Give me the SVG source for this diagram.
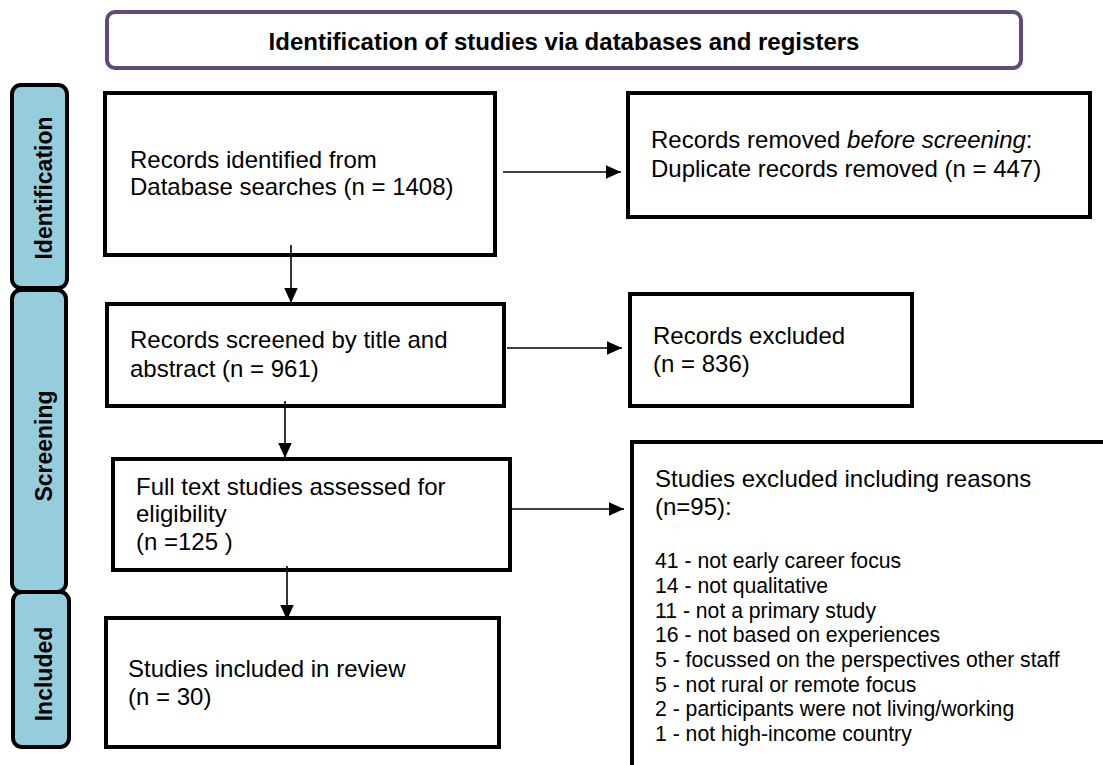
<svg xmlns="http://www.w3.org/2000/svg" width="1103" height="765" viewBox="0 0 1103 765">
<defs>
<style>
.box{fill:#ffffff;stroke:#000000;stroke-width:4}
.phase{fill:#96cddd;stroke:#000000;stroke-width:4}
.t{font-family:"Liberation Sans",Arial,sans-serif;font-size:24px;fill:#000000}
.s{font-family:"Liberation Sans",Arial,sans-serif;font-size:21.2px;fill:#000000}
.b{font-family:"Liberation Sans",Arial,sans-serif;font-size:23px;font-weight:bold;fill:#000000}
.con{stroke:#000000;stroke-width:1.6;fill:none}
</style>
<marker id="ah" viewBox="0 0 10 10" refX="10" refY="5" markerWidth="15" markerHeight="15" markerUnits="userSpaceOnUse" orient="auto">
<path d="M0,0.5 L10,5 L0,9.5 z" fill="#000000"/>
</marker>
</defs>
<rect width="1103" height="765" fill="#ffffff"/>

<g id="title">
<rect x="107" y="12" width="914" height="56" rx="8" fill="#ffffff" stroke="#5e4b7c" stroke-width="4"/>
<text class="b" x="564" y="50" text-anchor="middle" style="font-size:24px">Identification of studies via databases and registers</text>
</g>

<g id="phase-identification">
<rect class="phase" x="12" y="85" width="55" height="203" rx="9"/>
<text class="b" x="52" y="188" text-anchor="middle" transform="rotate(-90 52 188)">Identification</text>
</g>
<g id="phase-screening">
<rect class="phase" x="12" y="290" width="54" height="302" rx="9"/>
<text class="b" x="52" y="446" text-anchor="middle" transform="rotate(-90 52 446)">Screening</text>
</g>
<g id="phase-included">
<rect class="phase" x="13" y="592" width="56" height="155" rx="9"/>
<text class="b" x="52" y="674" text-anchor="middle" transform="rotate(-90 52 674)">Included</text>
</g>

<g id="records-identified">
<rect class="box" x="105" y="93" width="390" height="162"/>
<text class="t" x="130" y="168">Records identified from</text>
<text class="t" x="130" y="195">Database searches (n = 1408)</text>
</g>

<g id="records-removed">
<rect class="box" x="628" y="93" width="462" height="124"/>
<text class="t" x="651" y="148">Records removed <tspan font-style="italic">before screening</tspan>:</text>
<text class="t" x="651" y="177">Duplicate records removed (n = 447)</text>
</g>

<g id="records-screened">
<rect class="box" x="107" y="304" width="397" height="102"/>
<text class="t" x="130" y="348">Records screened by title and</text>
<text class="t" x="130" y="377">abstract (n = 961)</text>
</g>

<g id="records-excluded">
<rect class="box" x="630" y="294" width="282" height="112"/>
<text class="t" x="653" y="344">Records excluded</text>
<text class="t" x="653" y="372">(n = 836)</text>
</g>

<g id="full-text">
<rect class="box" x="113" y="459" width="397" height="111"/>
<text class="t" x="136" y="495">Full text studies assessed for</text>
<text class="t" x="136" y="522">eligibility</text>
<text class="t" x="136" y="550">(n =125 )</text>
</g>

<g id="studies-excluded">
<rect class="box" x="632" y="442" width="520" height="400"/>
<text class="t" x="655" y="487">Studies excluded including reasons</text>
<text class="t" x="655" y="515">(n=95):</text>
<text class="s" x="655" y="568">41 - not early career focus</text>
<text class="s" x="655" y="593">14 - not qualitative</text>
<text class="s" x="655" y="618">11 - not a primary study</text>
<text class="s" x="655" y="642">16 - not based on experiences</text>
<text class="s" x="655" y="667">5 - focussed on the perspectives other staff</text>
<text class="s" x="655" y="692">5 - not rural or remote focus</text>
<text class="s" x="655" y="716">2 - participants were not living/working</text>
<text class="s" x="655" y="741">1 - not high-income country</text>
</g>

<g id="studies-included">
<rect class="box" x="106" y="618" width="393" height="129"/>
<text class="t" x="128" y="677">Studies included in review</text>
<text class="t" x="128" y="705">(n = 30)</text>
</g>

<g id="connectors">
<line class="con" x1="503" y1="172" x2="621" y2="172" marker-end="url(#ah)"/>
<line class="con" x1="291" y1="245" x2="291" y2="303" marker-end="url(#ah)"/>
<line class="con" x1="507" y1="348" x2="622" y2="348" marker-end="url(#ah)"/>
<line class="con" x1="285" y1="401" x2="285" y2="458" marker-end="url(#ah)"/>
<line class="con" x1="512" y1="509" x2="624" y2="509" marker-end="url(#ah)"/>
<line class="con" x1="287" y1="566" x2="287" y2="620" marker-end="url(#ah)"/>
</g>
</svg>
